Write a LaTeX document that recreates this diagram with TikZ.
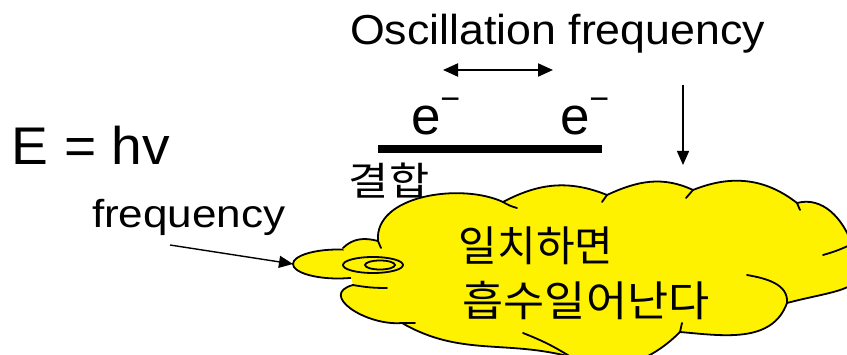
\documentclass[tikz,border=0pt]{standalone}
\usepackage{fontspec}
\setmainfont{Liberation Sans}
\newfontfamily\kr{Noto Sans CJK KR}
\usetikzlibrary{arrows.meta,shapes.geometric}
\tikzset{
  lbl/.style={inner sep=0pt, outer sep=0pt, anchor=base west},
  krlbl/.style={inner sep=0pt, outer sep=0pt, anchor=center},
  outl/.style={line width=1.8pt, line join=round, line cap=round},
  inner/.style={line width=1.8pt, line cap=round},
  arr/.style={line width=1.4pt, -{Triangle[length=14pt,width=12pt]}},
  dbl/.style={line width=2pt, {Triangle[length=15pt,width=13pt]}-{Triangle[length=15pt,width=13pt]}},
  ell/.style={ellipse, draw, line width=1.8pt, inner sep=0pt, outer sep=0pt}
}
\def\cloudpath{(343,248)
  to[out=45,in=165] (378,241)
  to[out=95,in=155,looseness=0.9] (503,202)
  to[out=28,in=158] (607,195)
  to[out=25,in=155] (693,190)
  to[out=22,in=142] (797,203)
  to[out=15,in=110] (852,244)
  to[out=-60,in=15,looseness=1.6] (787,303)
  to[out=-110,in=-5] (680,332)
  to[out=-135,in=-27] (571,357)
  to[out=165,in=-30] (402,323)
  to[out=-175,in=-165,looseness=1.5] (353,285)}
\begin{document}
\begin{tikzpicture}[x=1pt,y=-1pt]
\useasboundingbox (0,0) rectangle (847,355);
\clip (0,0) rectangle (847,355);
% tail bubble
\node[ell, fill=yellow, minimum width=90pt, minimum height=29pt] (tail) at (338,264) {};
% cloud body
\fill[yellow] \cloudpath -- cycle;
\draw[outl] \cloudpath;
% inner strokes
\draw[inner] (378,241) -- (381,248);
\draw[inner] (503,202) to[bend right=8] (517,208);
\draw[inner] (607,195) -- (602,202);
\draw[inner] (693,190) -- (686,198);
\draw[inner] (797,203) -- (800,210);
\draw[inner] (852,244) to[bend left=5] (823,255);
\draw[inner] (787,303) to[out=85,in=-10] (747,275);
\draw[inner] (680,332) -- (682,323);
\draw[inner] (571,357) to[bend right=5] (523,333);
\draw[inner] (402,323) -- (415,323);
\draw[inner] (353,285) to[bend right=5] (387,288);
% concentric rings
\node[ell, minimum width=60pt, minimum height=16pt] (ringout) at (373,265) {};
\node[ell, minimum width=30pt, minimum height=9pt] (ringin) at (380,265) {};
% texts
\node[lbl] (osc) at (350,45) {\scalebox{1.067}[1]{\fontsize{41.9}{50}\selectfont Oscillation frequency}};
\node[lbl] (ehv) at (12,165) {\scalebox{1.04}[1]{\fontsize{53}{60}\selectfont E = hv}};
\node[lbl] (freq) at (92,228) {\scalebox{1.13}[1]{\fontsize{39}{46}\selectfont frequency}};
\node[lbl] (e1) at (411,135) {\fontsize{53}{60}\selectfont e\raisebox{24pt}{\fontsize{34}{34}\selectfont −}};
\node[lbl] (e2) at (560,135) {\fontsize{53}{60}\selectfont e\raisebox{24pt}{\fontsize{34}{34}\selectfont −}};
\node[krlbl] (bond) at (389,181) {\scalebox{1.12}[1]{\kr\fontsize{39}{44}\selectfont 결합}};
\node[krlbl] (match) at (536,246) {\kr\fontsize{42}{48}\selectfont 일치하면};
\node[krlbl] (absorb) at (586,301) {\scalebox{1.065}[1]{\kr\fontsize{42}{48}\selectfont 흡수일어난다}};
% bar
\coordinate (barl) at (378,149);
\coordinate (barr) at (602,149);
\draw[line width=8pt] (barl) -- (barr);
% arrows
\coordinate (dl) at (443,70);
\coordinate (dr) at (553,70);
\draw[dbl] (dl) -- (dr);
\coordinate (dtop) at (683,85);
\coordinate (dbot) at (683,165);
\draw[arr] (dtop) -- (dbot);
\coordinate (fstart) at (170,245);
\draw[arr] (fstart) -- (tail.west);
\end{tikzpicture}
\end{document}
